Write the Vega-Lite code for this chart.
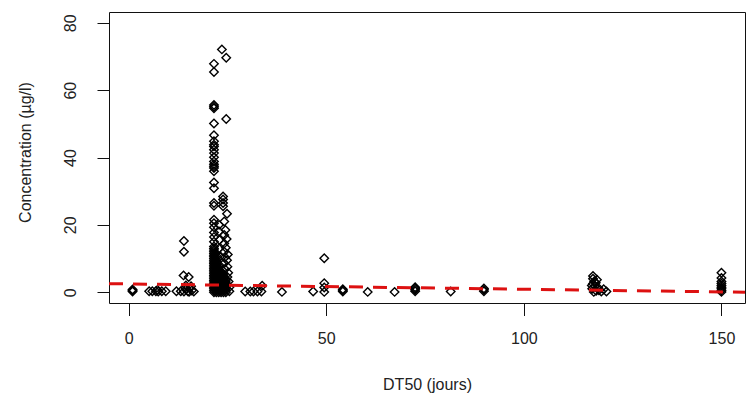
{
  "$schema": "https://vega.github.io/schema/vega-lite/v6.json",
  "autosize": "none",
  "width": 636,
  "height": 291,
  "padding": {"left": 109, "top": 12, "right": 7, "bottom": 101},
  "background": "white",
  "config": {
    "view": {"stroke": "#111", "strokeWidth": 1},
    "font": "Liberation Sans"
  },
  "datasets": {
    "pts": [
      {"dt50": 1, "conc": 0.2}, {"dt50": 1, "conc": 0.5}, {"dt50": 1, "conc": 0.8},
      {"dt50": 5.2, "conc": 0.3}, {"dt50": 6.0, "conc": 0.3}, {"dt50": 6.9, "conc": 0.3}, {"dt50": 7.3, "conc": 0.7}, {"dt50": 7.5, "conc": 0.2}, {"dt50": 8.4, "conc": 0.3}, {"dt50": 9.4, "conc": 0.3},
      {"dt50": 12.1, "conc": 0.3}, {"dt50": 13.2, "conc": 0.3}, {"dt50": 14.0, "conc": 15.2}, {"dt50": 14.0, "conc": 12.0}, {"dt50": 13.9, "conc": 5.0}, {"dt50": 15.2, "conc": 4.5},
      {"dt50": 14.0, "conc": 0.2}, {"dt50": 14.5, "conc": 0.8}, {"dt50": 15.0, "conc": 0.3}, {"dt50": 15.5, "conc": 1.2}, {"dt50": 16.0, "conc": 0.5}, {"dt50": 16.5, "conc": 0.2}, {"dt50": 14.5, "conc": 2.0}, {"dt50": 15.8, "conc": 1.8}, {"dt50": 14.3, "conc": 1.3}, {"dt50": 15.3, "conc": 0.1},
      {"dt50": 21.6, "conc": 67.8}, {"dt50": 21.6, "conc": 65.4}, {"dt50": 21.6, "conc": 55.6}, {"dt50": 21.6, "conc": 55.1}, {"dt50": 21.6, "conc": 54.6}, {"dt50": 21.6, "conc": 50.1}, {"dt50": 21.6, "conc": 46.6}, {"dt50": 21.6, "conc": 44.8}, {"dt50": 21.6, "conc": 43.8}, {"dt50": 21.6, "conc": 43.3}, {"dt50": 21.6, "conc": 42.3}, {"dt50": 21.6, "conc": 41.3}, {"dt50": 21.6, "conc": 40.1}, {"dt50": 21.6, "conc": 38.8}, {"dt50": 21.6, "conc": 38.0}, {"dt50": 21.6, "conc": 37.4}, {"dt50": 21.6, "conc": 36.9}, {"dt50": 21.6, "conc": 35.9}, {"dt50": 21.6, "conc": 32.6}, {"dt50": 21.6, "conc": 30.9}, {"dt50": 21.6, "conc": 26.5}, {"dt50": 21.6, "conc": 25.7}, {"dt50": 21.6, "conc": 21.5}, {"dt50": 21.6, "conc": 20.5}, {"dt50": 21.6, "conc": 19.3}, {"dt50": 21.6, "conc": 17.7}, {"dt50": 21.6, "conc": 16.4}, {"dt50": 21.6, "conc": 15.0}, {"dt50": 21.6, "conc": 13.6},
      {"dt50": 23.6, "conc": 72.1}, {"dt50": 24.7, "conc": 69.6}, {"dt50": 24.7, "conc": 51.4},
      {"dt50": 23.9, "conc": 28.4}, {"dt50": 23.9, "conc": 27.5}, {"dt50": 23.9, "conc": 26.5}, {"dt50": 23.9, "conc": 25.5},
      {"dt50": 24.9, "conc": 23.3}, {"dt50": 24.2, "conc": 21.0}, {"dt50": 24.5, "conc": 18.5}, {"dt50": 24.2, "conc": 17.0}, {"dt50": 24.8, "conc": 15.8}, {"dt50": 24.2, "conc": 14.5}, {"dt50": 24.6, "conc": 13.2}, {"dt50": 24.2, "conc": 12.0}, {"dt50": 25.1, "conc": 11.2}, {"dt50": 24.4, "conc": 10.4}, {"dt50": 24.9, "conc": 9.5}, {"dt50": 24.2, "conc": 8.6}, {"dt50": 25.0, "conc": 7.6}, {"dt50": 24.4, "conc": 6.8}, {"dt50": 25.2, "conc": 5.8}, {"dt50": 25.0, "conc": 4.5}, {"dt50": 25.3, "conc": 3.2}, {"dt50": 25.5, "conc": 1.5}, {"dt50": 25.5, "conc": 0.3},
      {"dt50": 22.9, "conc": 20.0}, {"dt50": 22.9, "conc": 18.0}, {"dt50": 23.0, "conc": 15.5}, {"dt50": 22.9, "conc": 13.0}, {"dt50": 23.1, "conc": 10.5}, {"dt50": 23.0, "conc": 8.0},
      {"dt50": 21.6, "conc": 0.0}, {"dt50": 21.6, "conc": 0.5}, {"dt50": 21.6, "conc": 1.0}, {"dt50": 21.6, "conc": 1.5}, {"dt50": 21.6, "conc": 2.0}, {"dt50": 21.6, "conc": 2.5}, {"dt50": 21.6, "conc": 3.0}, {"dt50": 21.6, "conc": 3.5}, {"dt50": 21.6, "conc": 4.0}, {"dt50": 21.6, "conc": 4.5}, {"dt50": 21.6, "conc": 5.0}, {"dt50": 21.6, "conc": 5.5}, {"dt50": 21.6, "conc": 6.0}, {"dt50": 21.6, "conc": 6.5}, {"dt50": 21.6, "conc": 7.0}, {"dt50": 21.6, "conc": 7.5}, {"dt50": 21.6, "conc": 8.0}, {"dt50": 21.6, "conc": 8.5}, {"dt50": 21.6, "conc": 9.0}, {"dt50": 21.6, "conc": 9.5}, {"dt50": 21.6, "conc": 10.0}, {"dt50": 21.6, "conc": 10.5}, {"dt50": 21.6, "conc": 11.0}, {"dt50": 21.6, "conc": 11.5}, {"dt50": 21.6, "conc": 12.0}, {"dt50": 21.6, "conc": 12.5}, {"dt50": 21.6, "conc": 13.0},
      {"dt50": 22.2, "conc": 0.0}, {"dt50": 22.2, "conc": 0.6}, {"dt50": 22.2, "conc": 1.2}, {"dt50": 22.2, "conc": 1.8}, {"dt50": 22.2, "conc": 2.4}, {"dt50": 22.2, "conc": 3.0}, {"dt50": 22.2, "conc": 3.6}, {"dt50": 22.2, "conc": 4.2}, {"dt50": 22.2, "conc": 4.8}, {"dt50": 22.2, "conc": 5.4}, {"dt50": 22.2, "conc": 6.0}, {"dt50": 22.2, "conc": 6.6}, {"dt50": 22.2, "conc": 7.2}, {"dt50": 22.2, "conc": 7.8}, {"dt50": 22.2, "conc": 8.4}, {"dt50": 22.2, "conc": 9.0}, {"dt50": 22.2, "conc": 9.6}, {"dt50": 22.2, "conc": 10.2}, {"dt50": 22.2, "conc": 10.8},
      {"dt50": 22.8, "conc": 0.0}, {"dt50": 22.8, "conc": 0.6}, {"dt50": 22.8, "conc": 1.2}, {"dt50": 22.8, "conc": 1.8}, {"dt50": 22.8, "conc": 2.4}, {"dt50": 22.8, "conc": 3.0}, {"dt50": 22.8, "conc": 3.6}, {"dt50": 22.8, "conc": 4.2}, {"dt50": 22.8, "conc": 4.8}, {"dt50": 22.8, "conc": 5.4}, {"dt50": 22.8, "conc": 6.0}, {"dt50": 22.8, "conc": 6.6}, {"dt50": 22.8, "conc": 7.2},
      {"dt50": 23.4, "conc": 0.0}, {"dt50": 23.4, "conc": 0.6}, {"dt50": 23.4, "conc": 1.2}, {"dt50": 23.4, "conc": 1.8}, {"dt50": 23.4, "conc": 2.4}, {"dt50": 23.4, "conc": 3.0}, {"dt50": 23.4, "conc": 3.6}, {"dt50": 23.4, "conc": 4.2}, {"dt50": 23.4, "conc": 4.8}, {"dt50": 23.4, "conc": 5.4}, {"dt50": 23.4, "conc": 6.0},
      {"dt50": 24.0, "conc": 0.0}, {"dt50": 24.0, "conc": 0.6}, {"dt50": 24.0, "conc": 1.2}, {"dt50": 24.0, "conc": 1.8}, {"dt50": 24.0, "conc": 2.4}, {"dt50": 24.0, "conc": 3.0}, {"dt50": 24.0, "conc": 3.6}, {"dt50": 24.0, "conc": 4.2}, {"dt50": 24.0, "conc": 4.8}, {"dt50": 24.0, "conc": 5.4},
      {"dt50": 24.6, "conc": 0.0}, {"dt50": 24.6, "conc": 0.6}, {"dt50": 24.6, "conc": 1.2}, {"dt50": 24.6, "conc": 1.8}, {"dt50": 24.6, "conc": 2.4}, {"dt50": 24.6, "conc": 3.0}, {"dt50": 24.6, "conc": 3.6},
      {"dt50": 29.5, "conc": 0.2}, {"dt50": 30.8, "conc": 0.2}, {"dt50": 31.6, "conc": 0.2}, {"dt50": 32.6, "conc": 0.2}, {"dt50": 33.6, "conc": 0.2}, {"dt50": 33.8, "conc": 1.9}, {"dt50": 38.8, "conc": 0.1},
      {"dt50": 46.7, "conc": 0.2}, {"dt50": 49.5, "conc": 10.1}, {"dt50": 49.5, "conc": 2.7}, {"dt50": 49.5, "conc": 1.4}, {"dt50": 49.5, "conc": 0.1},
      {"dt50": 54.2, "conc": 0.2}, {"dt50": 54.2, "conc": 0.6}, {"dt50": 54.2, "conc": 0.9}, {"dt50": 60.5, "conc": 0.1}, {"dt50": 67.3, "conc": 0.1},
      {"dt50": 72.5, "conc": 0.3}, {"dt50": 72.5, "conc": 0.7}, {"dt50": 72.5, "conc": 1.1}, {"dt50": 72.5, "conc": 1.5},
      {"dt50": 81.5, "conc": 0.2}, {"dt50": 89.9, "conc": 0.3}, {"dt50": 89.9, "conc": 0.7}, {"dt50": 89.9, "conc": 1.1},
      {"dt50": 117.5, "conc": 4.8}, {"dt50": 117.5, "conc": 4.0}, {"dt50": 117.8, "conc": 3.2}, {"dt50": 117.5, "conc": 2.5}, {"dt50": 118.0, "conc": 1.8}, {"dt50": 117.3, "conc": 1.0}, {"dt50": 118.3, "conc": 0.4}, {"dt50": 117.7, "conc": 0.1}, {"dt50": 118.5, "conc": 3.7}, {"dt50": 118.2, "conc": 2.8}, {"dt50": 118.8, "conc": 1.3}, {"dt50": 117.2, "conc": 2.0}, {"dt50": 119.0, "conc": 0.6}, {"dt50": 119.6, "conc": 0.2}, {"dt50": 120.2, "conc": 0.9}, {"dt50": 120.9, "conc": 0.2},
      {"dt50": 150, "conc": 5.8}, {"dt50": 150, "conc": 4.2}, {"dt50": 150, "conc": 3.2}, {"dt50": 150, "conc": 2.6}, {"dt50": 150, "conc": 2.0}, {"dt50": 150, "conc": 1.5}, {"dt50": 150, "conc": 1.0}, {"dt50": 150, "conc": 0.5}, {"dt50": 150, "conc": 0.1}
    ],
    "fit": [
      {"dt50": -4.96, "conc": 2.55},
      {"dt50": 155.96, "conc": 0.0}
    ]
  },
  "layer": [
    {
      "data": {"name": "pts"},
      "mark": {"type": "point", "shape": "diamond", "size": 72, "filled": false, "stroke": "#000", "strokeWidth": 1.4, "opacity": 1},
      "encoding": {
        "x": {
          "field": "dt50", "type": "quantitative",
          "scale": {"domain": [-4.96, 155.96], "nice": false, "zero": false},
          "axis": {
            "values": [0, 50, 100, 150], "title": "DT50 (jours)", "grid": false, "domain": false,
            "tickSize": 12.5, "tickColor": "#111", "labelFontSize": 16, "labelColor": "#222", "labelPadding": 15,
            "titleFontSize": 16, "titleFontWeight": "normal", "titleColor": "#222",
            "titleX": 318, "titleY": 81, "titleAlign": "center", "titleBaseline": "middle"
          }
        },
        "y": {
          "field": "conc", "type": "quantitative",
          "scale": {"domain": [-3.2, 83.2], "nice": false, "zero": false},
          "axis": {
            "values": [0, 20, 40, 60, 80], "title": "Concentration (µg/l)", "grid": false, "domain": false,
            "tickSize": 12, "tickColor": "#111", "labelFontSize": 16, "labelColor": "#222", "labelAngle": -90,
            "labelAlign": "center", "labelBaseline": "bottom", "labelPadding": 19,
            "titleFontSize": 16, "titleFontWeight": "normal", "titleColor": "#222",
            "titleAngle": -90, "titleX": -84, "titleY": 140, "titleAlign": "center", "titleBaseline": "middle"
          }
        }
      }
    },
    {
      "data": {"name": "fit"},
      "mark": {"type": "line", "color": "#dd1111", "strokeWidth": 3, "strokeDash": [14, 10], "clip": true},
      "encoding": {
        "x": {"field": "dt50", "type": "quantitative"},
        "y": {"field": "conc", "type": "quantitative"}
      }
    }
  ]
}
